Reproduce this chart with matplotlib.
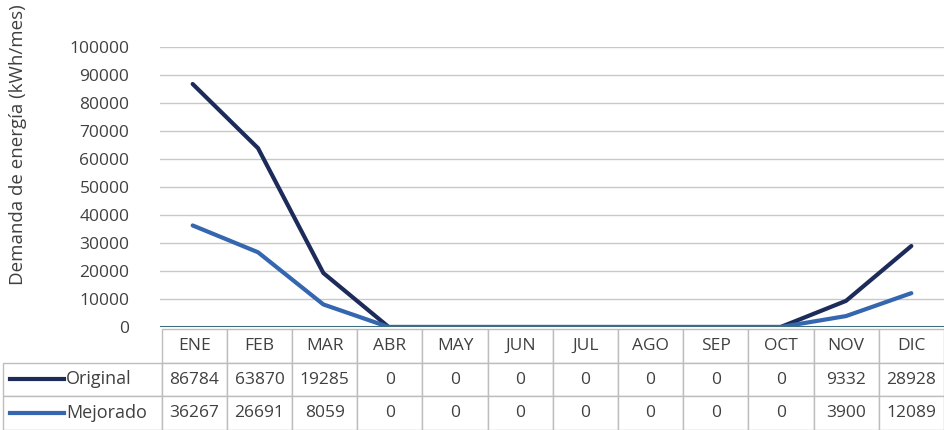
import matplotlib

matplotlib.use("Agg")
import matplotlib.pyplot as plt
from matplotlib.lines import Line2D

months = ["ENE", "FEB", "MAR", "ABR", "MAY", "JUN", "JUL", "AGO", "SEP", "OCT", "NOV", "DIC"]
original = [86784, 63870, 19285, 0, 0, 0, 0, 0, 0, 0, 9332, 28928]
mejorado = [36267, 26691, 8059, 0, 0, 0, 0, 0, 0, 0, 3900, 12089]
series_names = ["Original", "Mejorado"]
series_colors = ["#1c2b5a", "#3467b0"]
yticks = list(range(0, 100001, 10000))

plt.rcParams["font.family"] = ["Open Sans", "DejaVu Sans"]
text_color = "#404040"
grid_color = "#c8c8c8"
fs = 12.5

fig = plt.figure(figsize=(9.44, 4.30), dpi=100)
ax = fig.add_axes([160 / 944, 103 / 430, 784 / 944, 280 / 430])

x = list(range(len(months)))
for vals, color in zip([original, mejorado], series_colors):
    ax.plot(x, vals, color=color, linewidth=3, solid_capstyle="round", zorder=3)
ax.axhline(0, color="#3b6e7e", linewidth=2.2, zorder=4)

ax.set_xlim(-0.5, len(months) - 0.5)
ax.set_ylim(0, 100000)
ax.set_yticks(yticks)
ax.set_yticklabels([str(v) for v in yticks], fontsize=fs, color=text_color)
ax.tick_params(axis="y", length=0, pad=22)
ax.set_xticks([])
ax.grid(axis="y", color=grid_color, linewidth=1)
ax.set_axisbelow(True)
for s in ax.spines.values():
    s.set_visible(False)
ax.set_ylabel("Demanda de energía (kWh/mes)", fontsize=13.5, color=text_color)
ax.yaxis.set_label_coords(-0.17, 0.65)

# data table below the plot, with an empty label column on the left
cell_text = [[""] + [str(v) for v in original], [""] + [str(v) for v in mejorado]]
col_w = 784 / 12
tbl = ax.table(
    cellText=cell_text,
    colLabels=[""] + months,
    colWidths=[159] + [col_w] * 12,
    cellLoc="center",
    bbox=[-157 / 784, -103 / 280, 941 / 784, 101 / 280],
)
tbl.auto_set_font_size(False)
tbl.set_fontsize(fs)
for (r, c), cell in tbl.get_celld().items():
    cell.set_edgecolor("#bdbdbd")
    cell.set_linewidth(1)
    cell.get_text().set_color(text_color)
    if r == 0 and c == 0:
        cell.set_visible(False)

# legend keys inside the label column
row_y = [-52 / 280, -86 / 280]
for name, color, y in zip(series_names, series_colors, row_y):
    ax.add_line(Line2D([-150 / 784, -96 / 784], [y, y], color=color, linewidth=3,
                       transform=ax.transAxes, clip_on=False))
    ax.text(-94 / 784, y, name, transform=ax.transAxes, ha="left", va="center",
            fontsize=13, color=text_color)

fig.savefig("out.png", dpi=100)
